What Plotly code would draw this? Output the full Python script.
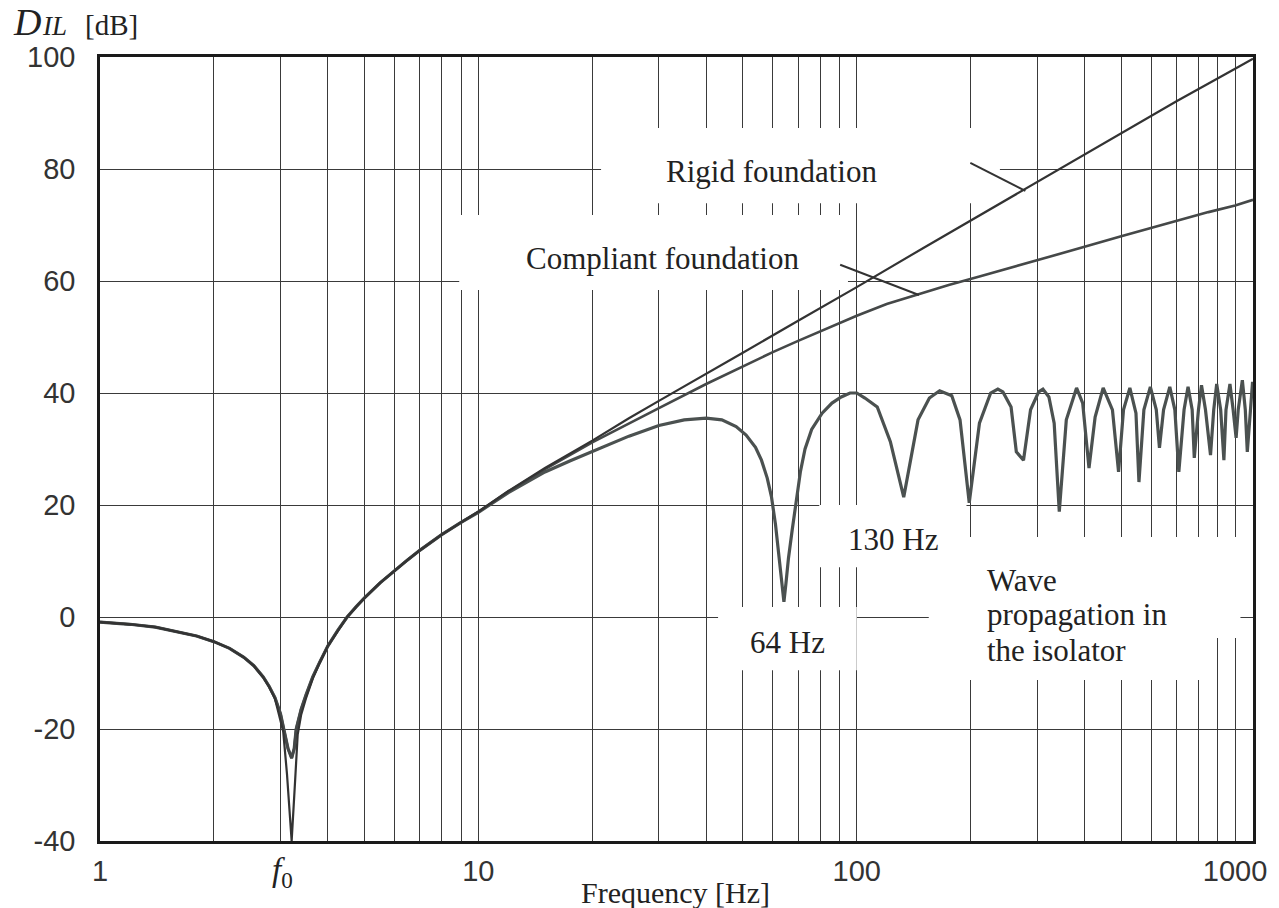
import numpy as np
import plotly.graph_objects as go

# ---------------- data ----------------
rigid_f = [1, 1.2, 1.4, 1.6, 1.8, 2.0, 2.2, 2.4, 2.55, 2.7, 2.8, 2.9, 3.0, 3.05, 3.12, 3.21, 3.28, 3.33, 3.4,
           3.5, 3.65, 3.8, 4.0, 4.25, 4.5, 4.75, 5, 5.5, 6, 6.5, 7, 8, 9, 10, 12, 15, 20, 25, 30, 40, 50,
           70, 100, 150, 200, 300, 500, 700, 1000, 1115]
rigid_db = [-0.9, -1.3, -1.8, -2.6, -3.4, -4.4, -5.6, -7.2, -8.7, -10.8, -12.5, -14.6, -18.3, -20.5, -28.0,
            -40.0, -29.0, -21.0, -17.5, -14.6, -11.0, -8.3, -5.2, -2.4, 0.0, 1.8, 3.4, 6.1, 8.3, 10.2, 11.9,
            14.7, 16.9, 18.8, 22.5, 26.6, 31.5, 35.5, 38.6, 43.4, 47.2, 52.9, 58.9, 65.9, 70.8, 77.7, 86.4,
            92.1, 97.9, 99.7]

compliant_f = [1, 1.2, 1.4, 1.6, 1.8, 2.0, 2.2, 2.4, 2.55, 2.7, 2.8, 2.9, 3.0, 3.06, 3.14, 3.21, 3.26, 3.3,
               3.4, 3.5, 3.65, 3.8, 4.0, 4.25, 4.5, 4.75, 5, 5.5, 6, 6.5, 7, 8, 9, 10, 12, 15, 20, 25, 30,
               40, 50, 60, 70, 85, 100, 120, 146, 175, 211, 260, 322, 400, 500, 600, 700, 850, 1000, 1115]
compliant_db = [-0.9, -1.3, -1.8, -2.6, -3.4, -4.4, -5.6, -7.2, -8.7, -10.7, -12.4, -14.4, -17.3, -20.0,
                -23.5, -25.2, -23.5, -20.0, -16.5, -14.0, -10.7, -8.2, -5.2, -2.4, 0.0, 1.8, 3.4, 6.1, 8.3,
                10.2, 11.9, 14.7, 16.9, 18.8, 22.4, 26.4, 31.2, 34.6, 37.3, 41.6, 44.8, 47.3, 49.3, 51.8,
                53.8, 55.9, 57.7, 59.3, 60.8, 62.5, 64.2, 66.1, 68.0, 69.5, 70.8, 72.3, 73.5, 74.5]

wave_f = [1, 1.2, 1.4, 1.6, 1.8, 2.0, 2.2, 2.4, 2.55, 2.7, 2.8, 2.9, 3.0, 3.06, 3.14, 3.21, 3.26, 3.3,
          3.4, 3.5, 3.65, 3.8, 4.0, 4.25, 4.5, 4.75, 5, 5.5, 6, 6.5, 7, 8, 9, 10, 12, 15, 17.5, 20, 25, 30,
          35, 40, 44, 48, 51, 54, 56, 58, 59.5, 61, 62.5, 63.5, 64.2, 65, 66, 67.5, 69, 71, 73, 76,
          81, 86, 91, 96, 100,
          105.1, 113.3, 122.7, 133.1, 145.2, 155.6, 165.6, 178.3, 187.5, 198.3,
          211, 225.9, 236, 243.4, 255.8, 264.1, 275.9, 288, 302.6, 310.5,
          322, 332.5, 343, 358, 381, 395.5, 411, 426.6, 448, 474,
          492, 507, 527, 547, 557, 574, 597, 619, 631, 647,
          672, 693, 710, 733, 751, 770, 780, 800, 815, 835,
          861, 878, 894, 916, 934, 946, 969, 988, 1006, 1019,
          1045, 1064, 1077, 1098, 1112]
wave_db = [-0.9, -1.3, -1.8, -2.6, -3.4, -4.4, -5.6, -7.2, -8.7, -10.7, -12.4, -14.4, -17.3, -20.0, -23.5,
           -25.2, -23.5, -20.0, -16.5, -14.0, -10.7, -8.2, -5.2, -2.4, 0.0, 1.8, 3.4, 6.1, 8.3, 10.2,
           11.9, 14.7, 16.9, 18.7, 22.2, 25.9, 27.9, 29.6, 32.3, 34.2,
           35.2, 35.5, 35.2, 34.0, 32.5, 30.3, 28.0, 24.8, 21.5, 16.5, 10.5, 5.5, 2.7, 6.0, 10.5, 15.5,
           20.5, 26.0, 30.0, 33.5,
           36.4, 38.2, 39.3, 40.0, 40.0,
           39.1, 37.5, 31.3, 21.4, 35.2, 39.1, 40.4, 39.5, 35.2, 20.4,
           34.6, 40.0, 40.7, 40.2, 37.5, 29.5, 28.0, 37.0, 40.2, 40.7,
           39.3, 34.6, 18.8, 35.2, 40.9, 38.2, 26.6, 35.7, 40.9, 37.0,
           25.9, 37.0, 40.9, 36.4, 24.1, 37.0, 41.1, 37.0, 30.2, 37.0,
           41.1, 37.0, 25.9, 37.0, 41.1, 37.0, 28.4, 37.0, 41.4, 37.0,
           28.9, 37.0, 41.6, 37.0, 28.0, 37.0, 41.6, 37.0, 32.0, 37.0,
           42.3, 37.0, 29.5, 37.0, 42.0]

x_grid_vals = [1, 2, 3, 4, 5, 6, 7, 8, 9, 10, 20, 30, 40, 50, 60, 70, 80, 90,
               100, 200, 300, 400, 500, 600, 700, 800, 900, 1000]
x_labelled = [1, 10, 100, 1000]
y_tick_vals = [-40, -20, 0, 20, 40, 60, 80, 100]
f0_value = 3.21

# ---------------- layout helpers ----------------
X_LOG_MAX = np.log10(1115)
SERIF = "Liberation Serif, Times New Roman, serif"
SANS = "Liberation Sans, Arial, sans-serif"
TXT = "#222222"

# white areas behind the labels (freq lo, freq hi, dB lo, dB hi)
label_masks = [
    (21.1, 239, 73.9, 87.3),
    (8.9, 94.8, 58.4, 71.8),
    (79.6, 195, 8.9, 20.0),
    (43, 100, -9.5, 1.8),
    (155, 1033, -3.75, 14.3),
    (155, 845, -11.25, -3.75),
]
# leader lines (freq, dB) -> (freq, dB)
leaders = [(199.6, 81.1, 279, 76.1), (90.4, 62.9, 146, 57.5)]

fig = go.Figure()
fig.add_trace(go.Scatter(x=wave_f, y=wave_db, mode="lines",
                         line=dict(color="#4b5150", width=3.2), name="Wave propagation"))
fig.add_trace(go.Scatter(x=compliant_f, y=compliant_db, mode="lines",
                         line=dict(color="#454848", width=2.6), name="Compliant foundation"))
fig.add_trace(go.Scatter(x=rigid_f, y=rigid_db, mode="lines",
                         line=dict(color="#333333", width=2.2), name="Rigid foundation"))

shapes = []
for (fa, fb, da, db) in label_masks:
    shapes.append(dict(type="rect", xref="x", yref="y", x0=fa, x1=fb, y0=da, y1=db,
                       fillcolor="white", line=dict(width=0), layer="between"))
for (fa, da, fb, dbv) in leaders:
    shapes.append(dict(type="line", xref="x", yref="y", x0=fa, y0=da, x1=fb, y1=dbv,
                       line=dict(color="#333333", width=2), layer="above"))

ann = []
def text_ann(f, dbv, text, xanchor="center", size=31):
    ann.append(dict(x=np.log10(f), y=dbv, xref="x", yref="y", text=text, showarrow=False,
                    xanchor=xanchor, yanchor="middle", font=dict(family=SERIF, size=size, color=TXT)))

text_ann(59.4, 79.5, "Rigid foundation")
text_ann(30.6, 64.1, "Compliant foundation")
text_ann(125, 13.8, "130 Hz")
text_ann(65.5, -4.6, "64 Hz")
text_ann(218, 6.6, "Wave", xanchor="left")
text_ann(218, 0.4, "propagation in", xanchor="left")
text_ann(218, -5.9, "the isolator", xanchor="left")

# f0 label under the axis
ann.append(dict(x=np.log10(f0_value) - 0.025, y=-0.04, xref="x", yref="paper",
                text="<i>f</i><sub>0</sub>", showarrow=False, xanchor="center", yanchor="middle",
                font=dict(family=SERIF, size=33, color=TXT)))
# axis titles
ann.append(dict(x=0.499, y=-0.066, xref="paper", yref="paper", text="Frequency [Hz]",
                showarrow=False, xanchor="center", yanchor="middle",
                font=dict(family=SERIF, size=30, color=TXT)))
ann.append(dict(x=-0.076, y=1.045, xref="paper", yref="paper", text="<i>D</i>",
                showarrow=False, xanchor="left", yanchor="middle", borderpad=0,
                font=dict(family=SERIF, size=38, color=TXT)))
ann.append(dict(x=-0.051, y=1.039, xref="paper", yref="paper", text="<i>IL</i>",
                showarrow=False, xanchor="left", yanchor="middle", borderpad=0,
                font=dict(family=SERIF, size=27, color=TXT)))
ann.append(dict(x=-0.014, y=1.041, xref="paper", yref="paper", text="[dB]",
                showarrow=False, xanchor="left", yanchor="middle", borderpad=0,
                font=dict(family=SERIF, size=29, color=TXT)))

fig.update_layout(
    width=1279, height=908,
    margin=dict(l=100, r=19, t=57, b=67),
    paper_bgcolor="white", plot_bgcolor="white",
    showlegend=False,
    shapes=shapes, annotations=ann,
    xaxis=dict(type="log", range=[0, X_LOG_MAX],
               tickmode="array", tickvals=x_grid_vals,
               ticktext=[str(v) if v in x_labelled else "" for v in x_grid_vals],
               showgrid=True, gridcolor="#3a3a3a", gridwidth=1,
               showline=True, mirror=True, linecolor="#1a1a1a", linewidth=2.5,
               ticks="", ticklabelstandoff=2,
               tickfont=dict(family=SANS, size=29, color="#333333"), zeroline=False),
    yaxis=dict(range=[-40, 100], tickmode="array", tickvals=y_tick_vals,
               ticktext=[str(v) for v in y_tick_vals],
               showgrid=True, gridcolor="#3a3a3a", gridwidth=1,
               showline=True, mirror=True, linecolor="#1a1a1a", linewidth=2.5,
               ticks="", ticklabelstandoff=16,
               tickfont=dict(family=SANS, size=29, color="#333333"), zeroline=False),
)

fig.write_html("out.html")
